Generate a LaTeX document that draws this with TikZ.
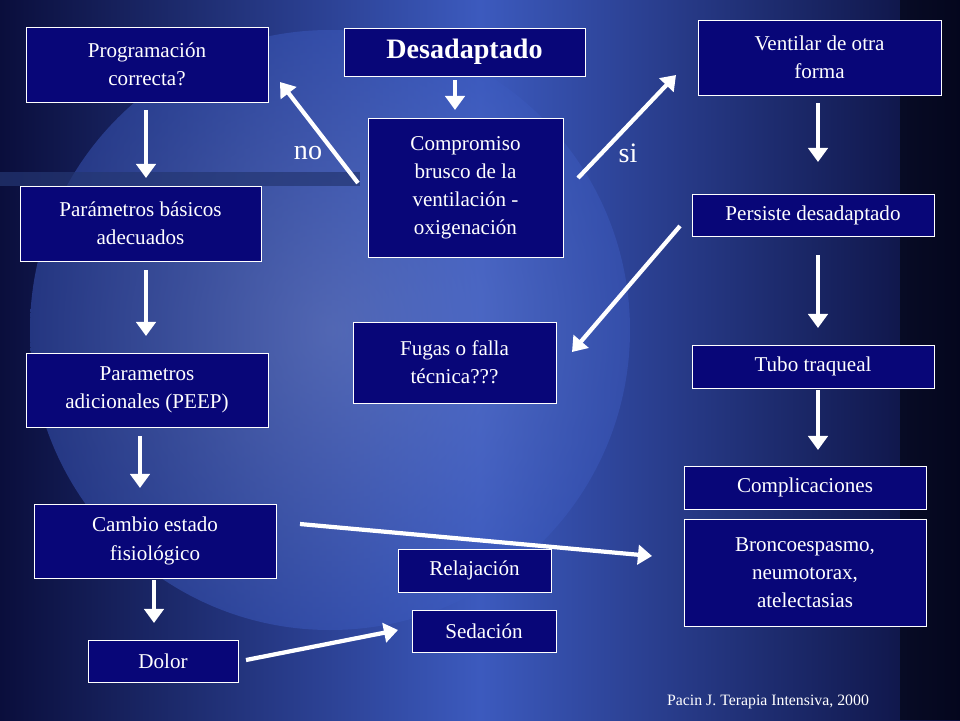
\documentclass[tikz,border=0pt]{standalone}
\usepackage{fontspec}
\setmainfont{Liberation Serif}
\usetikzlibrary{arrows.meta}
\definecolor{boxblue}{RGB}{8,6,120}
\definecolor{bgdark}{RGB}{10,14,60}
\definecolor{bglight}{RGB}{60,90,190}

\tikzset{
  box/.style = {draw=white, fill=boxblue, text=white, align=center, inner sep=2pt,
                font=\fontsize{12}{16}\selectfont},
  flow/.style = {draw=white, line width=2.4pt, -{Triangle[length=8pt,width=11pt]}}
}
% box from its corners in pixels
\newcommand{\pbox}[6][]{%
  \node[box, #1, minimum width={(#4-#2)*0.02cm}, minimum height={(#5-#3)*0.02cm}]
    (#6) at ({(#2+#4)/2},{(#3+#5)/2})}

\begin{document}
\begin{tikzpicture}[x=0.02cm, y=-0.02cm]
  % background
  \shade[left color=bgdark, right color=bgdark, middle color=bglight] (0,0) rectangle (960,720);
  \shade[inner color=bglight!70!white, outer color=bglight, opacity=0.5] (330,330) circle (300);
  \fill[black, opacity=0.5] (900,0) rectangle (960,720);
  \fill[bglight!60!black, opacity=0.7] (0,172) rectangle (360,186);
  \useasboundingbox (0,0) rectangle (960,720);

  \pbox{26}{27}{268}{102}{prog} {Programación\\correcta?};
  \pbox[font=\fontsize{16}{19}\selectfont\bfseries]{344}{28}{585}{76}{desad} {Desadaptado};
  \pbox{698}{20}{941}{95}{vent} {Ventilar de otra\\forma};
  \pbox{368}{118}{563}{257}{comp} {Compromiso\\brusco de la\\ventilación -\\oxigenación};
  \pbox{20}{186}{261}{261}{basic} {Parámetros básicos\\adecuados};
  \pbox{692}{194}{934}{236}{pers} {Persiste desadaptado};
  \pbox{353}{322}{556}{403}{fuga} {Fugas o falla\\técnica???};
  \pbox{26}{353}{268}{427}{adic} {Parametros\\adicionales (PEEP)};
  \pbox{692}{345}{934}{388}{tubo} {Tubo traqueal};
  \pbox{684}{466}{926}{509}{compl} {Complicaciones};
  \pbox{34}{504}{276}{578}{cambio} {Cambio estado\\fisiológico};
  \pbox{684}{519}{926}{626}{bronco} {Broncoespasmo,\\neumotorax,\\atelectasias};
  \pbox{398}{549}{551}{592}{relaj} {Relajación};
  \pbox{412}{610}{556}{652}{sed} {Sedación};
  \pbox{88}{640}{238}{682}{dolor} {Dolor};

  \node[text=white, font=\fontsize{16}{19}\selectfont] (no) at (308,153) {no};
  \node[text=white, font=\fontsize{16}{19}\selectfont] (si) at (628,153) {si};
  \node[text=white, font=\fontsize{9}{11}\selectfont] (ref) at (768,702) {Pacin J. Terapia Intensiva, 2000};

  \coordinate (c1) at (358,183);
  \coordinate (c2) at (578,178);
  \coordinate (p1) at (680,226);
  \coordinate (k1) at (300,524);
  \coordinate (d1) at (246,660);

  \draw[flow] (455,80) -- (455,110);
  \draw[flow] (c1) -- (280,82);
  \draw[flow] (c2) -- (676,75);
  \draw[flow] (146,110) -- (146,178);
  \draw[flow] (146,270) -- (146,336);
  \draw[flow] (140,436) -- (140,488);
  \draw[flow] (154,580) -- (154,623);
  \draw[flow] (818,103) -- (818,162);
  \draw[flow] (p1) -- (572,352);
  \draw[flow] (818,255) -- (818,328);
  \draw[flow] (818,390) -- (818,450);
  \draw[flow] (k1) -- (652,556);
  \draw[flow] (d1) -- (398,630);
\end{tikzpicture}
\end{document}
